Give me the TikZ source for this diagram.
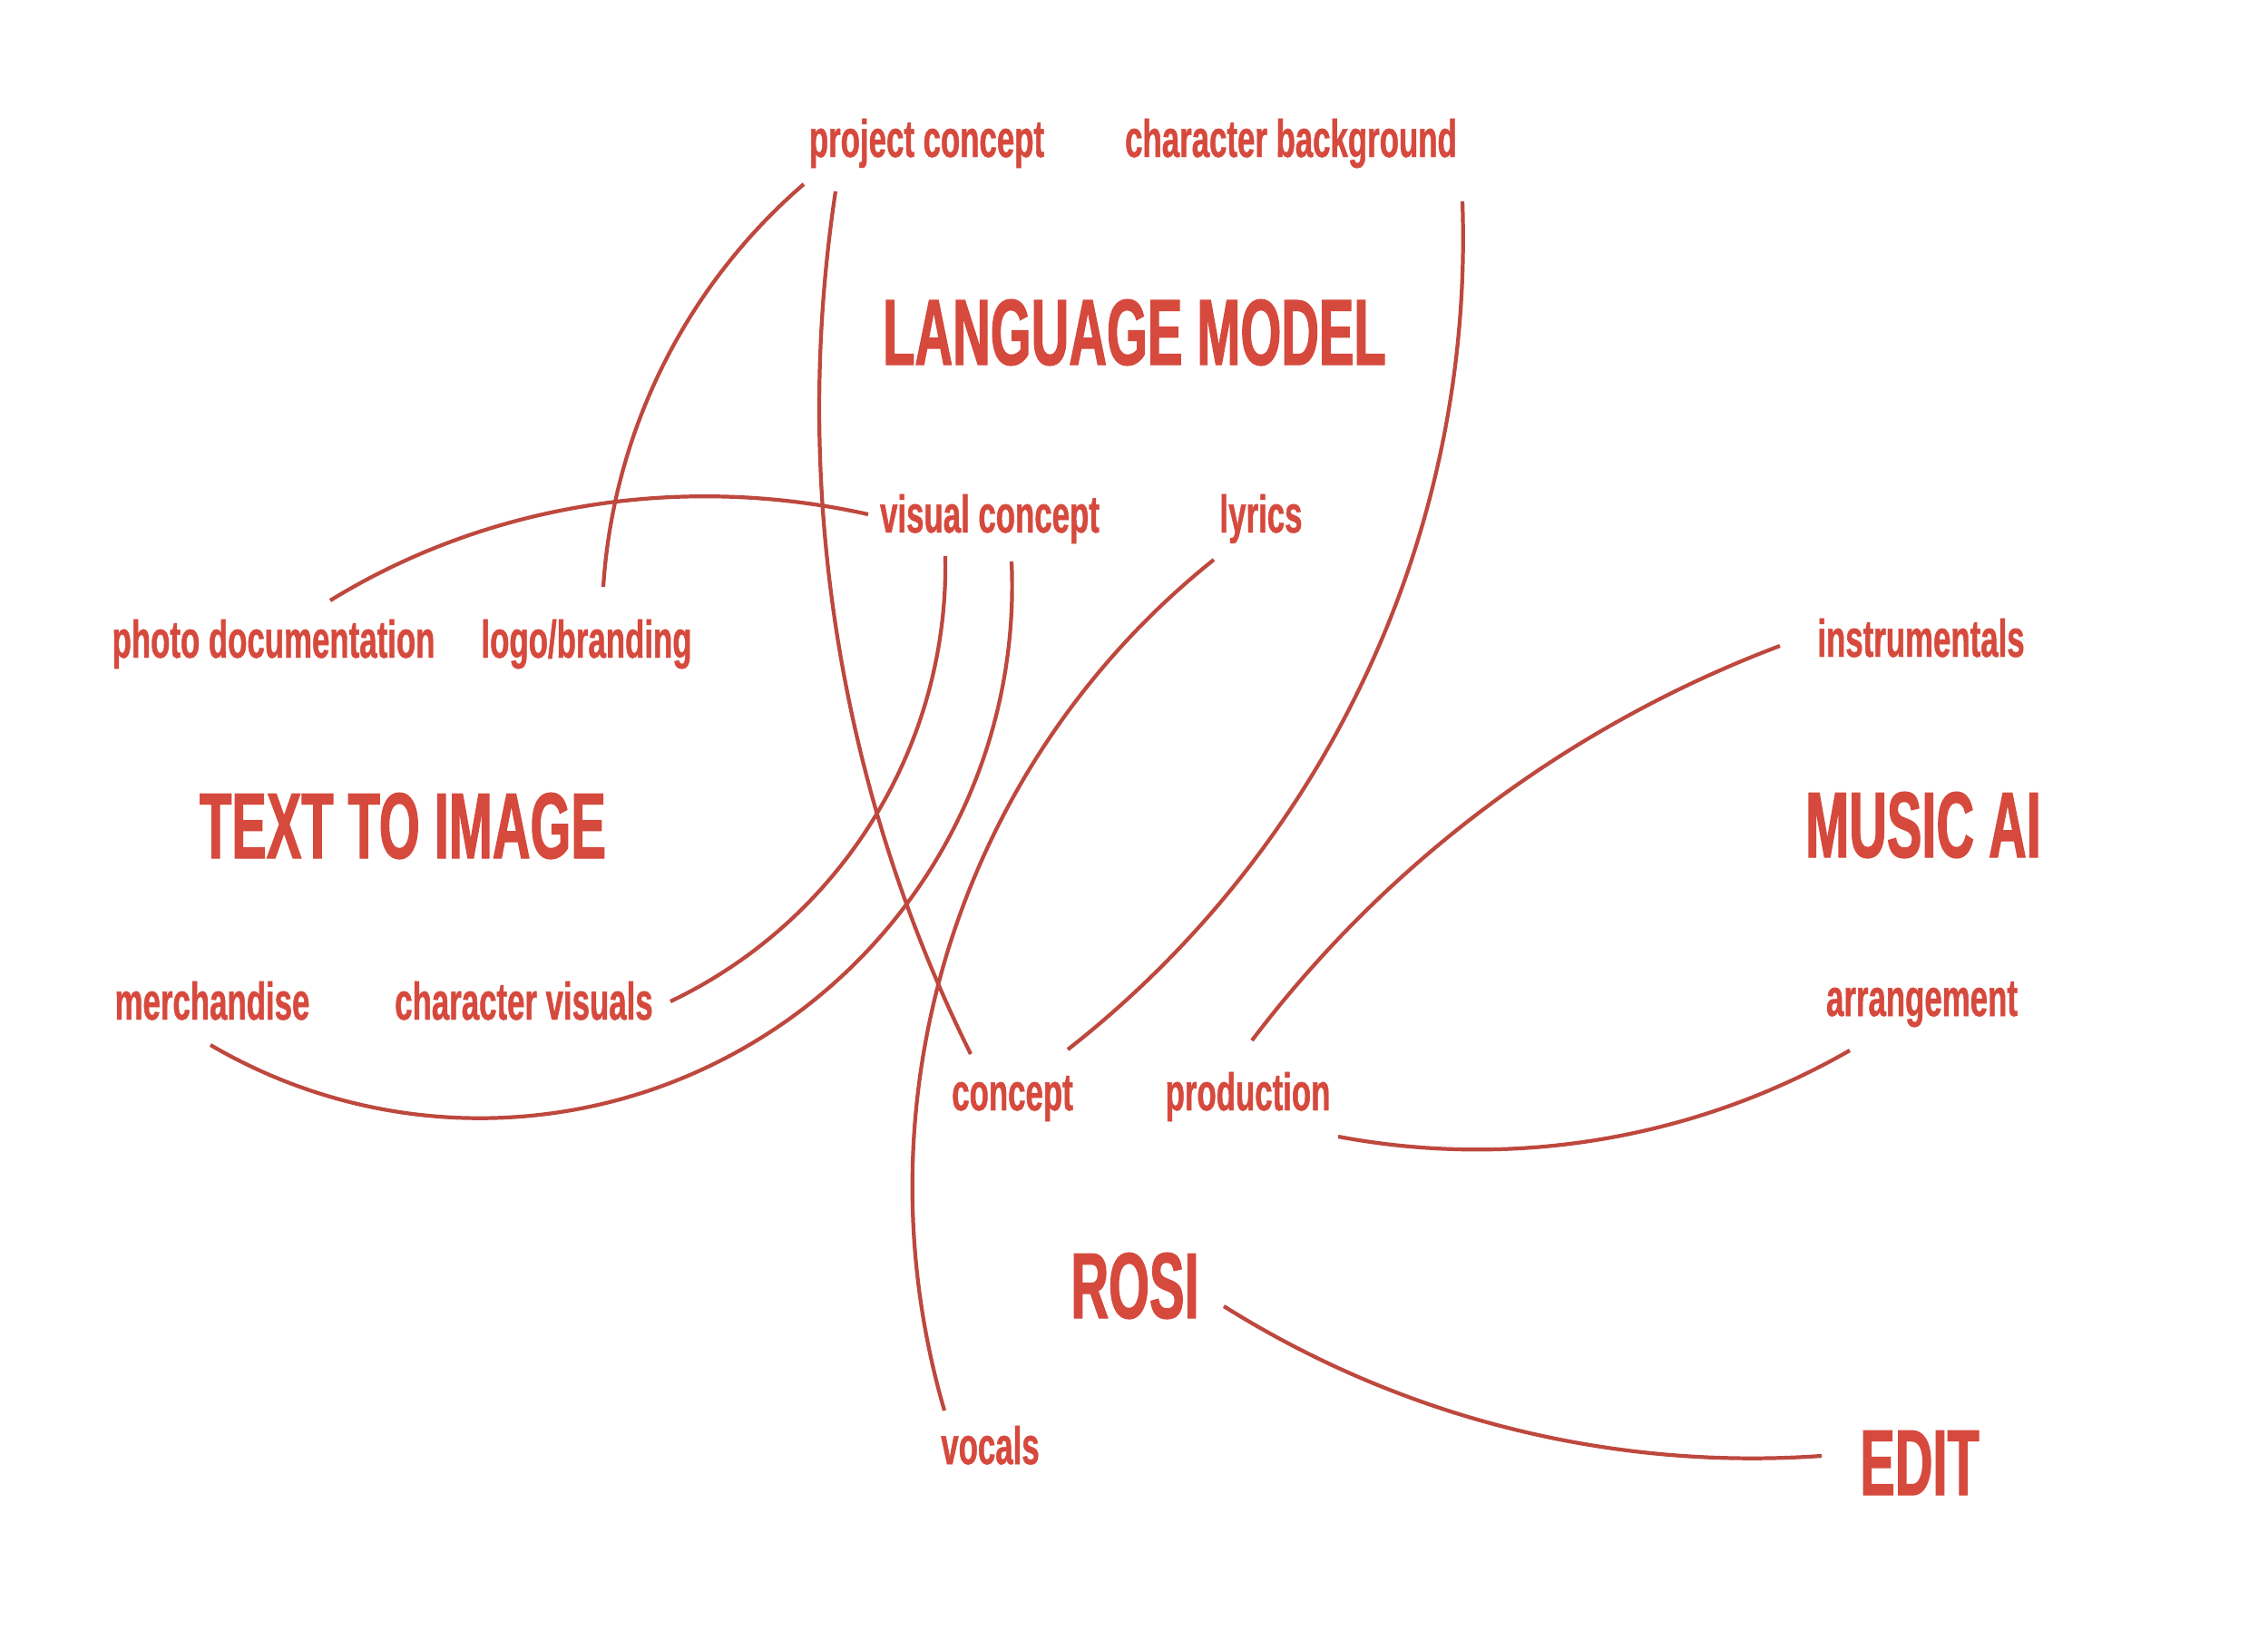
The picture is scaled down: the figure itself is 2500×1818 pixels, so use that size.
\documentclass[tikz,border=0pt]{standalone}
\usepackage{fontspec}
\newfontfamily\labfont{Liberation Sans Bold}[FakeStretch=0.60,FakeBold=0.8]
\newfontfamily\bigfont{Liberation Sans Bold}[FakeStretch=0.56,FakeBold=1.2]
\definecolor{txtred}{RGB}{214,73,61}
\definecolor{linered}{RGB}{190,72,62}
\begin{document}
\begin{tikzpicture}[x=0.01cm,y=-0.01cm,
  lab/.style={inner sep=0pt, anchor=base, text=txtred, font=\labfont\fontsize{16.5pt}{18pt}\selectfont},
  big/.style={inner sep=0pt, anchor=base, text=txtred, font=\bigfont\fontsize{29.3pt}{32pt}\selectfont},
  conn/.style={draw=linered, line width=1.2pt}]
\useasboundingbox[fill=white] (0,0) rectangle (2500,1818);

% titles
\node[big] (lm)   at (1250.5,402) {LANGUAGE MODEL};
\node[big] (tti)  at (444,946)    {TEXT TO IMAGE};
\node[big] (mai)  at (2120,945)   {MUSIC AI};
\node[big] (rosi) at (1251,1453)  {ROSI};
\node[big] (edit) at (2116,1648)  {EDIT};

% labels
\node[lab] (pc)  at (1021.5,173) {project concept};
\node[lab] (cb)  at (1423,173)   {character background};
\node[lab] (vc)  at (1091,587)   {visual concept};
\node[lab] (ly)  at (1390,587)   {lyrics};
\node[lab] (pd)  at (301.5,725)  {photo documentation};
\node[lab] (lb)  at (646.5,725)  {logo/branding};
\node[lab] (ins) at (2117.5,724) {instrumentals};
\node[lab] (me)  at (234,1124)   {merchandise};
\node[lab] (cv)  at (577.5,1124) {character visuals};
\node[lab] (arr) at (2118.5,1120){arrangement};
\node[lab] (co)  at (1116,1224)  {concept};
\node[lab] (pr)  at (1375.5,1224){production};
\node[lab] (vo)  at (1091.5,1614){vocals};

% connector end points
\coordinate (pd-e)  at (364,662);
\coordinate (vc-w)  at (957,567);
\coordinate (lb-e)  at (665,647);
\coordinate (pc-a)  at (886,203);
\coordinate (pc-b)  at (921,211);
\coordinate (co-a)  at (1070,1162);
\coordinate (cb-e)  at (1612,222);
\coordinate (co-b)  at (1177,1157);
\coordinate (vc-a)  at (1042,613);
\coordinate (cv-e)  at (739,1104);
\coordinate (vc-b)  at (1115,619);
\coordinate (me-m)  at (832,1148.3);
\coordinate (me-e)  at (232,1152);
\coordinate (ly-e)  at (1338,617);
\coordinate (vo-e)  at (1041,1555);
\coordinate (ins-e) at (1962,712);
\coordinate (pr-a)  at (1380,1147);
\coordinate (arr-e) at (2039,1158);
\coordinate (pr-b)  at (1475,1253);
\coordinate (ro-e)  at (1349,1440);
\coordinate (ed-e)  at (2008,1605);

% connectors (circular arcs)
\draw[conn] (pd-e) .. controls (540.3,553.6) and (754.7,522) .. (vc-w);
\draw[conn] (lb-e) .. controls (676.1,475.4) and (755.8,315.4) .. (pc-a);
\draw[conn] (pc-b) .. controls (871.9,535.5) and (924.1,868) .. (co-a);
\draw[conn] (cb-e) .. controls (1625,585.3) and (1463.3,932.9) .. (co-b);
\draw[conn] (vc-a) .. controls (1046.2,821.8) and (927.5,1014.1) .. (cv-e);
\draw[conn] (vc-b) .. controls (1124.9,834.1) and (1016.4,1037.1) .. (me-m)
                   .. controls (647.6,1259.5) and (417.6,1260.9) .. (me-e);
\draw[conn] (ly-e) .. controls (1058.3,840.5) and (940.8,1211.2) .. (vo-e);
\draw[conn] (ins-e) .. controls (1730.9,799.2) and (1529.1,950.1) .. (pr-a);
\draw[conn] (arr-e) .. controls (1868.2,1255.8) and (1668.4,1289.4) .. (pr-b);
\draw[conn] (ro-e) .. controls (1545.9,1563.5) and (1776.2,1621.2) .. (ed-e);
\end{tikzpicture}
\end{document}
